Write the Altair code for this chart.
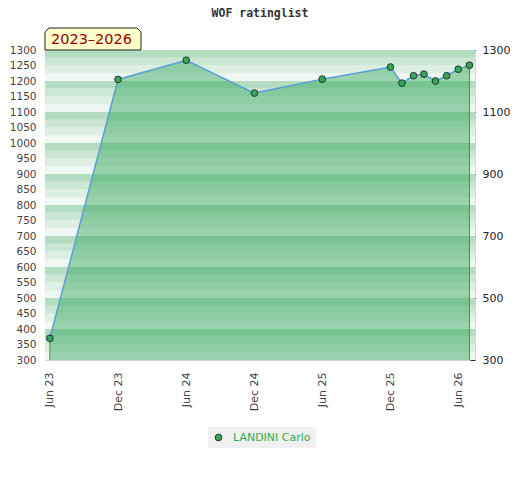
import altair as alt
import pandas as pd

# ---- data ----
dates = ["2023-06-01", "2023-12-01", "2024-06-01", "2024-12-01", "2025-06-01",
         "2025-12-01", "2026-01-01", "2026-02-01", "2026-03-01", "2026-04-01",
         "2026-05-01", "2026-06-01", "2026-07-01"]
ratings = [370, 1205, 1267, 1161, 1206, 1245, 1193, 1217, 1222, 1200, 1217, 1238, 1251]
player = "LANDINI Carlo"
chart_title = "WOF ratinglist"
period_label = "2023–2026"
y_min, y_max = 300, 1300
left_ticks = list(range(300, 1301, 50))
right_ticks = list(range(300, 1301, 100))
x_tick_dates = [(2023, 6), (2023, 12), (2024, 6), (2024, 12), (2025, 6), (2025, 12), (2026, 6)]

# ---- styles ----
BAND_COLORS = ["#b3dcc1", "#cbe7d4", "#dcefe2", "#eef7f1"]
AREA_COLOR = "#30a75a"
LINE_COLOR = "#5a9fd8"
POINT_COLOR = "#3aa35e"
DROP_COLOR = "#2e9a50"

df = pd.DataFrame({
    "date": [d + "T00:00:00" for d in dates],
    "rating": ratings,
    "player": [player] * len(dates),
})
ends = df.iloc[[0, len(df) - 1]]

band_lo = list(range(y_min, y_max, 25))
bands_df = pd.DataFrame({
    "lo": band_lo,
    "hi": [v + 25 for v in band_lo],
    "c": [BAND_COLORS[((100 - (v + 25) % 100) % 100) // 25] for v in band_lo],
})

yscale = alt.Scale(domain=[y_min, y_max], nice=False, zero=False)
xscale = alt.Scale(domain=[alt.DateTime(year=2023, month=5, date=19),
                           alt.DateTime(year=2026, month=7, date=16)], nice=False)

x_axis = alt.Axis(
    values=[alt.DateTime(year=y, month=m, date=1) for y, m in x_tick_dates],
    format="%b %y", labelAngle=-90, ticks=False, tickSize=0, domain=False,
    grid=False, labelPadding=12, labelFontSize=11, labelColor="#444444",
    labelFont="DejaVu Sans", title=None, labelOverlap=False,
)
left_axis = alt.Axis(
    values=left_ticks, ticks=False, tickSize=0, domain=False, grid=False,
    labelPadding=9, labelFontSize=10.5, labelColor="#444444", format="d",
    labelFont="DejaVu Sans", title=None, orient="left", labelOverlap=False,
    labelBound=False, labelFlush=False,
)
right_axis = alt.Axis(
    values=right_ticks, orient="right", domain=False, grid=False, format="d",
    offset=-5, labelPadding=7, labelFontSize=11, labelColor="#222222",
    labelFont="DejaVu Sans", title=None, tickColor="#222222", labelOverlap=False,
    labelExpr="datum.value % 200 == 100 ? datum.label : ''",
    tickSize={"condition": {"test": "datum.value % 200 == 100", "value": 5}, "value": 3},
)

x_main = alt.X("date:T", scale=xscale, axis=x_axis)
x_plain = alt.X("date:T", scale=xscale)
y_none = alt.Y("rating:Q", scale=yscale, axis=None)

bands = alt.Chart(bands_df).mark_rect().encode(
    y=alt.Y("lo:Q", scale=yscale, axis=None),
    y2="hi:Q",
    fill=alt.Fill("c:N", scale=None),
)

base = alt.Chart(df)
area = base.mark_area(color=AREA_COLOR, opacity=0.45).encode(
    x=x_main, y=y_none, y2=alt.datum(y_min)
)
drops = alt.Chart(ends).mark_rule(color=DROP_COLOR, strokeWidth=1).encode(
    x=x_plain, y=y_none, y2=alt.datum(y_min)
)
line = base.mark_line(color=LINE_COLOR, strokeWidth=1.5).encode(x=x_plain, y=y_none)
points = base.mark_circle(size=45, opacity=1, stroke="#1e3b27", strokeWidth=1).encode(
    x=x_plain, y=y_none,
    color=alt.Color("player:N", scale=alt.Scale(range=[POINT_COLOR]),
                    legend=alt.Legend(
                        title=None, orient="none", legendX=163, legendY=377,
                        fillColor="#f0f0f0", padding=5, symbolType="circle",
                        symbolSize=45, symbolStrokeColor="#1e3b27",
                        symbolStrokeWidth=1, labelColor="#33aa55",
                        labelFontSize=11, labelFont="DejaVu Sans",
                        labelOffset=9,
                    )),
)

box_path = "M-1,0.229L-1,-0.146L-0.917,-0.229L0.917,-0.229L1,-0.146L1,0.229Z"
label_df = pd.DataFrame({"t": [period_label]})
box = alt.Chart(label_df).mark_point(
    shape=box_path, size=96 * 96, filled=True, fill="#ffffcc",
    stroke="#222222", strokeWidth=1, opacity=1,
).encode(x=alt.value(48), y=alt.value(-11))
box_text = alt.Chart(label_df).mark_text(
    font="DejaVu Sans", fontSize=14.5, color="#990000",
    align="center", baseline="middle",
).encode(x=alt.value(46.5), y=alt.value(-10.5), text="t:N")

title_df = pd.DataFrame({"t": [chart_title]})
title_text = alt.Chart(title_df).mark_text(
    font="DejaVu Sans Mono", fontSize=11.5, fontWeight="bold", color="#333333",
    align="center", baseline="alphabetic",
).encode(x=alt.value(215), y=alt.value(-33), text="t:N")

main = alt.layer(bands, area, drops, line, points, box, box_text, title_text)

left = base.mark_line(opacity=0).encode(
    x=x_plain,
    y=alt.Y("rating:Q", scale=yscale, axis=left_axis),
)
right = base.mark_line(opacity=0).encode(
    x=x_plain,
    y=alt.Y("rating:Q", scale=yscale, axis=right_axis),
)

chart = alt.layer(main, left, right).resolve_scale(y="independent").properties(
    width=430, height=310,
    autosize=alt.AutoSizeParams(type="none"),
    padding={"left": 37, "top": 42, "right": 37, "bottom": 112},
    background="white",
).configure_view(stroke="#d6d6d6", strokeWidth=1)

chart.save("out.html", embed_options={"renderer": "svg", "actions": False})
